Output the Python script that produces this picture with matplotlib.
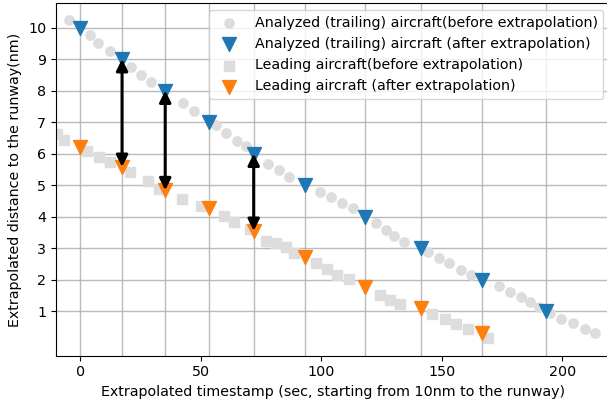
import matplotlib
matplotlib.use("Agg")
import matplotlib.pyplot as plt

plt.rcParams['font.size'] = 10.25

# Trailing aircraft (before extrapolation)
trail_t = [-4.8, 4.1, 7.5, 12.6, 21.2, 25.3, 29.5, 42.6, 47.1, 56.4, 60.6, 65.1, 68.9,
           77.8, 82.3, 86.8, 99.7, 104.1, 108.7, 113.0, 122.8, 126.7, 130.4, 134.3,
           144.2, 148.7, 153.0, 157.8, 162.0, 173.7, 178.5, 182.7, 186.7, 190.3,
           194.7, 199.6, 204.4, 209.3, 213.5]
trail_d = [10.24, 9.77, 9.52, 9.26, 8.76, 8.50, 8.28, 7.60, 7.36, 6.91, 6.64, 6.40, 6.24,
           5.67, 5.47, 5.25, 4.79, 4.63, 4.44, 4.26, 3.79, 3.57, 3.39, 3.20,
           2.89, 2.70, 2.52, 2.30, 2.15, 1.80, 1.62, 1.44, 1.28, 1.12,
           0.95, 0.77, 0.63, 0.45, 0.30]

# Leading aircraft (before extrapolation)
lead_t = [-9.7, -6.5, 2.9, 7.7, 12.6, 20.9, 28.3, 32.6, 42.2, 50.2, 59.6, 64.0, 70.5,
          77.2, 81.3, 85.5, 88.9, 97.9, 102.3, 106.5, 111.5, 124.4, 128.5, 132.5,
          146.0, 151.2, 156.0, 160.8, 169.2]
lead_d = [6.62, 6.43, 6.08, 5.90, 5.72, 5.41, 5.13, 4.87, 4.56, 4.34, 4.01, 3.82, 3.62,
          3.24, 3.17, 3.04, 2.85, 2.52, 2.34, 2.15, 2.01, 1.52, 1.36, 1.23,
          0.91, 0.75, 0.59, 0.45, 0.14]

# Extrapolated timestamps (trailing aircraft at 10, 9, ..., 1 nm)
ext_t = [0.0, 17.4, 35.3, 53.6, 72.0, 93.4, 118.0, 141.2, 166.8, 193.4]
trail_ext_d = [10, 9, 8, 7, 6, 5, 4, 3, 2, 1]
lead_ext_d = [6.22, 5.58, 4.84, 4.28, 3.55, 2.71, 1.77, 1.11, 0.30]

arrow_idx = [1, 2, 4]

fig = plt.figure(figsize=(6.07, 4.05), dpi=100)
ax = fig.add_axes([56/607, (405-355.7)/405, (610.5-56)/607, (355.7-3.3)/405])

grid_kw = dict(color='#b0b0b0', lw=1.0, alpha=0.85, zorder=0)
for t in ext_t:
    ax.axvline(t, **grid_kw)
ax.set_yticks(list(range(1, 11)))
for yv in range(1, 11):
    ax.axhline(yv, **grid_kw)

ax.scatter(trail_t, trail_d, marker='o', s=45, color='#dddddd', zorder=2,
           label='Analyzed (trailing) aircraft(before extrapolation)')
ax.scatter(ext_t, trail_ext_d, marker='v', s=100, color='#1f77b4', zorder=3,
           label='Analyzed (trailing) aircraft (after extrapolation)')
ax.scatter(lead_t, lead_d, marker='s', s=45, color='#dddddd', zorder=2,
           label='Leading aircraft(before extrapolation)')
ax.scatter(ext_t[:len(lead_ext_d)], lead_ext_d, marker='v', s=100, color='#ff7f0e', zorder=3,
           label='Leading aircraft (after extrapolation)')

for i in arrow_idx:
    ax.annotate('', xy=(ext_t[i], lead_ext_d[i]), xytext=(ext_t[i], trail_ext_d[i]),
                arrowprops=dict(arrowstyle='<|-|>', color='black', lw=2.2,
                                mutation_scale=17, shrinkA=0, shrinkB=0), zorder=4)

ax.set_xlim(-10, 220)
ax.set_ylim(-0.41, 10.77)
ax.set_xticks([0, 50, 100, 150, 200])
ax.set_xlabel('Extrapolated timestamp (sec, starting from 10nm to the runway)')
ax.set_ylabel('Extrapolated distance to the runway(nm)')
ax.legend(loc='upper right')

fig.savefig('out.png', dpi=100)
